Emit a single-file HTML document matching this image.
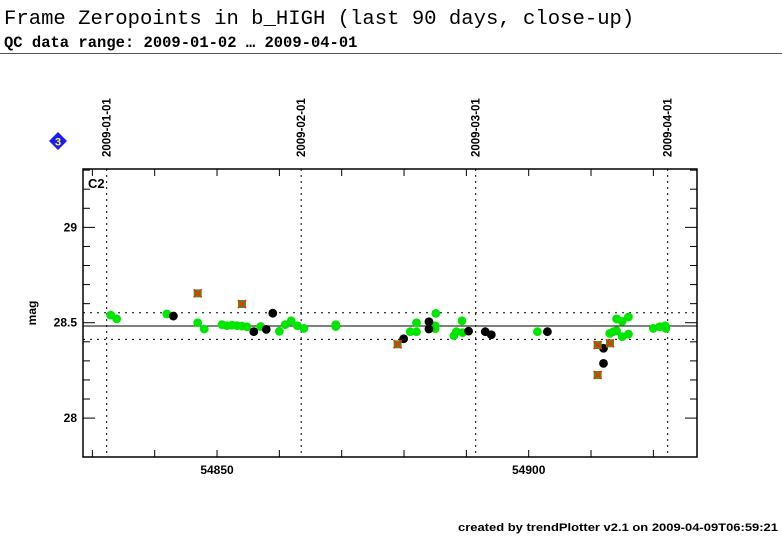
<!DOCTYPE html>
<html><head><meta charset="utf-8"><style>
body{margin:0;background:#fff;width:782px;height:542px;overflow:hidden}
svg text{font-family:"Liberation Sans",sans-serif}
</style></head><body>
<svg id="c" width="782" height="542" xmlns="http://www.w3.org/2000/svg">
<text x="4" y="24" style="font-family:'Liberation Mono',monospace" font-size="20.6">Frame Zeropoints in b_HIGH (last 90 days, close-up)</text>
<text x="4" y="47" style="font-family:'Liberation Mono',monospace" font-size="15.5" font-weight="bold">QC data range: 2009-01-02 … 2009-04-01</text>
<line x1="0" y1="53.5" x2="782" y2="53.5" stroke="#555" stroke-width="1"/>
<g><polygon points="58,132 67,141 58,150 49,141" fill="#1a1aff"/><text x="58" y="145.5" font-size="11" font-weight="bold" fill="#ff0" text-anchor="middle">3</text></g>
<text x="458" y="531" font-size="11" font-weight="bold" textLength="320" lengthAdjust="spacingAndGlyphs">created by trendPlotter v2.1 on 2009-04-09T06:59:21</text>
<g id="plot"></g>
</svg>
<script>
const mjd=[54832.94,54833.9,54841.95,54846.9,54847.95,54850.8,54851.6,54852.4,54853.2,54854.0,54854.8,54857.0,54860.0,54860.95,54861.9,54862.9,54863.95,54869.05,54869.05,54881.0,54882.0,54882.0,54885.1,54885.0,54885.0,54888.0,54888.4,54889.3,54889.4,54901.4,54913.0,54913.6,54914.1,54914.1,54915.0,54916.0,54915.0,54916.0,54920.0,54921.0,54921.9,54922.0];
const mag=[28.54,28.52,28.546,28.50,28.467,28.49,28.485,28.487,28.485,28.482,28.479,28.48,28.455,28.49,28.51,28.484,28.47,28.49,28.48,28.453,28.453,28.50,28.549,28.484,28.469,28.432,28.453,28.51,28.448,28.453,28.444,28.453,28.458,28.52,28.507,28.53,28.427,28.44,28.47,28.479,28.484,28.47];
const blackMjd=[54843.0,54855.9,54857.9,54858.95,54879.94,54884.0,54884.0,54890.35,54893.03,54894.0,54903.0,54912.0,54912.0];
const blackMag=[28.535,28.453,28.465,28.55,28.416,28.505,28.467,28.456,28.453,28.437,28.453,28.366,28.287];
const flagMjd=[54846.9,54854.0,54878.97,54911.06,54911.06,54913.04];
const flagMag=[28.654,28.598,28.387,28.383,28.226,28.392];
const refMean=28.483, refUpper=28.552, refLower=28.413;
const xTicks=[54850,54900];
const yTicks=[28,28.5,29];
const dateLabels=["2009-01-01","2009-02-01","2009-03-01","2009-04-01"];
const dateMjd=[54832.3,54863.5,54891.5,54922.3];

const L=83,R=697,T=169,B=457,X0=54828.5,X1=54927.0,Y0=27.796,Y1=29.306;
const sx=v=>L+(v-X0)/(X1-X0)*(R-L);
const sy=v=>B-(v-Y0)/(Y1-Y0)*(B-T);
const NS="http://www.w3.org/2000/svg";
const g=document.getElementById('plot');
function mk(t,a,p){const e=document.createElementNS(NS,t);for(const k in a)e.setAttribute(k,a[k]);(p||g).appendChild(e);return e;}

let e=mk('rect',{x:L,y:T,width:R-L,height:B-T,fill:'none',stroke:'#000','stroke-width':1.5});


dateMjd.forEach((d,i)=>{const x=sx(d);
 let l=mk('line',{x1:x,y1:T,x2:x,y2:B,stroke:'#000','stroke-dasharray':'2,4'});
 
 
 let t=mk('text',{x:0,y:0,'font-size':11.5,'font-weight':'bold',transform:`translate(${x+4},157) rotate(-90)`});
 t.textContent=dateLabels[i];
 
 
});
[refUpper,refLower].forEach(v=>{let l=mk('line',{x1:L,y1:sy(v),x2:R,y2:sy(v),stroke:'#000','stroke-dasharray':'2,5'});
 
 });
e=mk('line',{x1:L,y1:sy(refMean),x2:R,y2:sy(refMean),stroke:'#000'});


for(let v=54830;v<=54920;v+=10){const x=sx(v);mk('line',{x1:x,y1:B,x2:x,y2:B-7,stroke:'#000'});mk('line',{x1:x,y1:T,x2:x,y2:T+7,stroke:'#000'});}
for(let k=280;k<=293;k++){const v=k/10,y=sy(v);const maj=Math.abs(v*2-Math.round(v*2))<1e-6;const w=maj?12:7;mk('line',{x1:L,y1:y,x2:L+w,y2:y,stroke:'#000'});mk('line',{x1:R,y1:y,x2:R-w,y2:y,stroke:'#000'});}
xTicks.forEach(v=>{let t=mk('text',{x:sx(v),y:474,'font-size':12,'font-weight':'bold','text-anchor':'middle'});t.textContent=v;
 
 });
yTicks.forEach(v=>{let t=mk('text',{x:L-6,y:sy(v)+4,'font-size':12,'font-weight':'bold','text-anchor':'end'});t.textContent=v==28?'28':v==29?'29':'28.5';
 
 });
e=mk('text',{x:0,y:0,'font-size':12,'font-weight':'bold','text-anchor':'middle',transform:'translate(36,313) rotate(-90)'});e.textContent='mag';


e=mk('text',{x:88,y:188,'font-size':13,'font-weight':'bold'});e.textContent='C2';


mjd.forEach((d,i)=>{let c=mk('circle',{cx:sx(d),cy:sy(mag[i]),r:4.4,fill:'#00e600'});
 
 });
blackMjd.forEach((d,i)=>{let c=mk('circle',{cx:sx(d),cy:sy(blackMag[i]),r:4.4,fill:'#000'});
 
 });
flagMjd.forEach((d,i)=>{const x=sx(d),y=sy(flagMag[i]);
 const gg=mk('g',{});
 
 
 mk('rect',{x:x-4,y:y-4,width:8,height:8,fill:'#3a9a20'},gg);
 mk('path',{d:`M${x-4},${y-4}L${x+4},${y+4}M${x+4},${y-4}L${x-4},${y+4}`,stroke:'#ff2a00','stroke-width':1.6},gg);
 mk('circle',{cx:x,cy:y,r:1.5,fill:'#ff2a00'},gg);
});
</script>
</body></html>
